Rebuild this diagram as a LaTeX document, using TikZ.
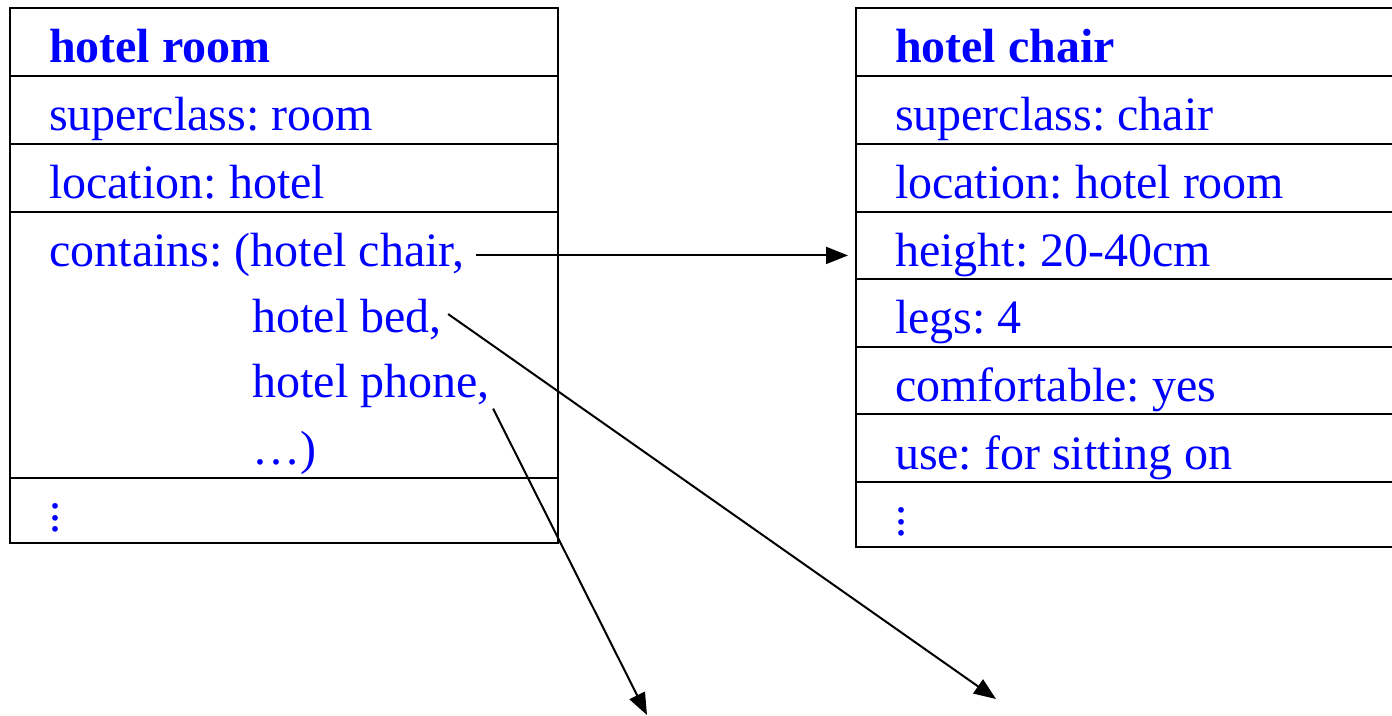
\documentclass[tikz,border=0pt]{standalone}
\usepackage{fontspec}
\setmainfont{Liberation Serif}
\usepackage{tikz}
\usetikzlibrary{positioning, arrows.meta}
\frenchspacing
\definecolor{frameblue}{RGB}{0,0,255}
\newcommand{\stackdots}{\vbox{\baselineskip=5.65pt\lineskiplimit=-20pt\hbox{.}\hbox{.}\hbox{.}}}
\tikzset{>={Triangle[length=11pt,width=8.5pt]}}
\tikzset{
slot/.style={draw, line width=1pt, outer sep=0pt, inner xsep=19.5pt, inner ysep=0pt,
  minimum width=274pt, minimum height=34pt, text width=235pt, align=flush left,
  text height=21pt, text depth=0pt, text=frameblue, font=\fontsize{24}{29}\selectfont},
entry/.style={anchor=base west, inner sep=0pt, text=frameblue, font=\fontsize{24}{29}\selectfont},
link/.style={->, line width=1pt}
}

\begin{document}
\begin{tikzpicture}[x=0.5pt, y=-0.5pt]
\useasboundingbox (0,0) rectangle (1392,716);
\clip (0,0) rectangle (1392,716);

% frame: hotel room
\node[slot, anchor=north west] (room) at (10,8) {\bfseries hotel room};
\node[slot, below=0pt of room] (room-super) {superclass: room};
\node[slot, below=0pt of room-super] (room-loc) {location: hotel};
\node[slot, minimum height=133pt, below=0pt of room-loc] (room-has) {};
\node[slot, minimum height=32.5pt, below=0pt of room-has] (room-more) {\stackdots};

\node[entry] (has-chair) at (49,267) {contains: (hotel chair,};
\node[entry] (has-bed) at (252,333) {hotel bed,};
\node[entry] (has-phone) at (252,398) {hotel phone,};
\node[entry] (has-more) at (252,465) {…)};

% frame: hotel chair
\node[slot, anchor=north west] (chair) at (856,8) {\bfseries hotel chair};
\node[slot, below=0pt of chair] (chair-super) {superclass: chair};
\node[slot, below=0pt of chair-super] (chair-loc) {location: hotel room};
\node[slot, minimum height=33.5pt, below=0pt of chair-loc] (chair-height) {height: 20-40cm};
\node[slot, below=0pt of chair-height] (chair-legs) {legs: 4};
\node[slot, minimum height=33.5pt, below=0pt of chair-legs] (chair-comfy) {comfortable: yes};
\node[slot, below=0pt of chair-comfy] (chair-use) {use: for sitting on};
\node[slot, minimum height=32.5pt, below=0pt of chair-use] (chair-more) {\stackdots};

\coordinate (bed-end) at (996,699);
\coordinate (phone-end) at (647,715);

\draw[link, shorten >=4pt] ([xshift=5.5pt]has-chair.east) -- (has-chair.east -| chair-height.west);
\draw[link] ([shift={(6,-6)}]has-bed.east) -- (bed-end);
\draw[link] ([xshift=1.5pt]has-phone.south east) -- (phone-end);
\end{tikzpicture}
\end{document}
